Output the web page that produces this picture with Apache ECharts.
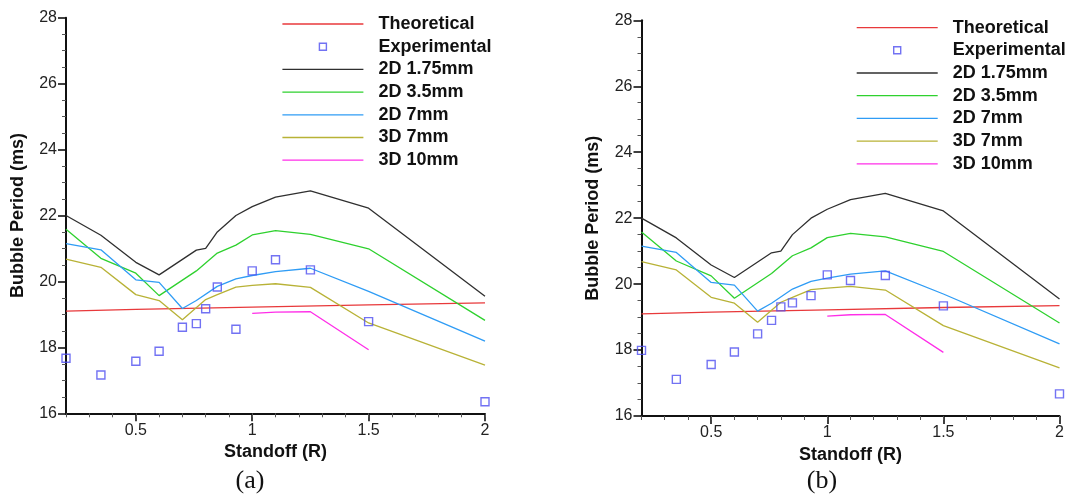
<!DOCTYPE html>
<html>
<head>
<meta charset="utf-8">
<script src="https://cdn.jsdelivr.net/npm/echarts@6/dist/echarts.min.js"></script>
<style>
html,body{margin:0;padding:0;background:#fff;}
#chart{width:1085px;height:498px;}
</style>
</head>
<body>
<div id="chart"></div>
<script>
// ---- data (x = standoff R, y = bubble period ms) ----
var legendNames = ['Theoretical', 'Experimental', '2D 1.75mm', '2D 3.5mm', '2D 7mm', '3D 7mm', '3D 10mm'];
var xMajorTicks = [0.5, 1, 1.5, 2];
var xMinorTicks = [0.2, 0.3, 0.4, 0.5, 0.6, 0.7, 0.8, 0.9, 1.0, 1.1, 1.2, 1.3, 1.4, 1.5, 1.6, 1.7, 1.8, 1.9, 2.0];
var theoretical = [[0.2, 19.1], [0.5, 19.15], [1.0, 19.22], [1.5, 19.29], [2.0, 19.35]];
var sim2d175 = [[0.2, 22.0], [0.35, 21.4], [0.5, 20.58], [0.6, 20.2], [0.76, 20.95], [0.8, 21.0], [0.85, 21.5], [0.93, 22.0], [1.0, 22.27], [1.1, 22.56], [1.25, 22.75], [1.5, 22.22], [2.0, 19.55]];
var sim2d35 = [[0.2, 21.58], [0.35, 20.7], [0.5, 20.25], [0.6, 19.57], [0.76, 20.32], [0.85, 20.86], [0.93, 21.1], [1.0, 21.41], [1.1, 21.54], [1.25, 21.43], [1.5, 20.99], [2.0, 18.82]];
var sim2d7 = [[0.2, 21.15], [0.35, 20.96], [0.5, 20.05], [0.6, 19.97], [0.7, 19.18], [0.76, 19.42], [0.85, 19.85], [0.93, 20.08], [1.0, 20.18], [1.1, 20.3], [1.25, 20.4], [1.5, 19.7], [2.0, 18.19]];
var sim3d7 = [[0.2, 20.68], [0.35, 20.43], [0.5, 19.6], [0.6, 19.42], [0.7, 18.84], [0.8, 19.45], [0.85, 19.6], [0.93, 19.83], [1.0, 19.88], [1.1, 19.93], [1.25, 19.82], [1.5, 18.74], [2.0, 17.46]];
var sim3d10 = [[1.0, 19.03], [1.1, 19.07], [1.25, 19.08], [1.5, 17.93]];
var expA = [[0.2, 17.67], [0.35, 17.16], [0.5, 17.58], [0.6, 17.88], [0.7, 18.61], [0.76, 18.72], [0.8, 19.17], [0.85, 19.83], [0.93, 18.55], [1.0, 20.32], [1.1, 20.66], [1.25, 20.35], [1.5, 18.78], [2.0, 16.35]];
var expB = [[0.2, 17.99], [0.35, 17.11], [0.5, 17.56], [0.6, 17.94], [0.7, 18.49], [0.76, 18.9], [0.8, 19.31], [0.85, 19.43], [0.93, 19.65], [1.0, 20.28], [1.1, 20.11], [1.25, 20.26], [1.5, 19.34], [2.0, 16.67]];
var panelCaptions = ['(a)', '(b)'];

// ---- styling ----
var FONT = "'Liberation Sans', Arial, sans-serif";
var colors = {
  'Theoretical': '#e8393b',
  'Experimental': '#4f4ff0',
  '2D 1.75mm': '#2f2f2f',
  '2D 3.5mm': '#2ed12e',
  '2D 7mm': '#2f9cf5',
  '3D 7mm': '#b8b236',
  '3D 10mm': '#ff2ee8'
};
var grids = [
  {left: 66, top: 17.7, width: 419, height: 395.6},
  {left: 641.5, top: 20.3, width: 418, height: 395.7}
];
var legendPos = [{left: 281.7, top: 15}, {left: 856, top: 18.6}];
var captionPos = [{x: 250, y: 481}, {x: 822, y: 481}];

var chart = echarts.init(document.getElementById('chart'), null, {renderer: 'canvas'});

var xAxes = [], yAxes = [], series = [], legends = [], graphics = [];
var simSets = [
  ['2D 1.75mm', sim2d175], ['2D 3.5mm', sim2d35], ['2D 7mm', sim2d7], ['3D 7mm', sim3d7], ['3D 10mm', sim3d10]
];
var expSets = [expA, expB];

for (var p = 0; p < 2; p++) {
  xAxes.push({
    gridIndex: p, type: 'value', min: 0.2, max: 2, position: 'bottom',
    name: 'Standoff (R)', nameLocation: 'middle', nameGap: 25.5,
    nameTextStyle: {fontFamily: FONT, fontSize: 18, fontWeight: 'bold', color: '#111'},
    axisLine: {show: true, onZero: false, lineStyle: {color: '#111', width: 2}},
    axisTick: {show: true, length: 8, customValues: xMajorTicks, lineStyle: {color: '#111', width: 1.6}},
    axisLabel: {show: true, customValues: xMajorTicks, margin: 9, fontFamily: FONT, fontSize: 16, color: '#222',
      formatter: function (v) { return String(Math.round(v * 10) / 10); }},
    splitLine: {show: false}
  });
  xAxes.push({
    gridIndex: p, type: 'value', min: 0.2, max: 2, position: 'bottom',
    axisLine: {show: false, onZero: false},
    axisTick: {show: true, length: 4, customValues: xMinorTicks, lineStyle: {color: '#555', width: 1}},
    axisLabel: {show: false},
    splitLine: {show: false}
  });
  yAxes.push({
    gridIndex: p, type: 'value', min: 16, max: 28, interval: 2,
    name: 'Bubble Period (ms)', nameLocation: 'middle', nameGap: 39,
    nameTextStyle: {fontFamily: FONT, fontSize: 18, fontWeight: 'bold', color: '#111'},
    axisLine: {show: true, onZero: false, lineStyle: {color: '#111', width: 2}},
    axisTick: {show: true, length: 8, lineStyle: {color: '#111', width: 1.6}},
    minorTick: {show: true, splitNumber: 4, length: 4, lineStyle: {color: '#555', width: 1}},
    axisLabel: {margin: 9, fontFamily: FONT, fontSize: 16, color: '#222'},
    splitLine: {show: false}
  });

  var xi = p * 2;
  series.push({
    name: 'Theoretical', type: 'line', xAxisIndex: xi, yAxisIndex: p, data: theoretical,
    symbol: 'none', lineStyle: {color: colors['Theoretical'], width: 1.3}, itemStyle: {color: colors['Theoretical']},
    silent: true, z: 2
  });
  for (var s = 0; s < simSets.length; s++) {
    var nm = simSets[s][0];
    series.push({
      name: nm, type: 'line', xAxisIndex: xi, yAxisIndex: p, data: simSets[s][1],
      symbol: 'none', lineStyle: {color: colors[nm], width: 1.3}, itemStyle: {color: colors[nm]},
      silent: true, z: 2
    });
  }
  series.push({
    name: 'Experimental', type: 'scatter', xAxisIndex: xi, yAxisIndex: p, data: expSets[p],
    symbol: 'rect', symbolSize: 8, clip: false,
    itemStyle: {color: 'rgba(255,255,255,0)', borderColor: colors['Experimental'], borderWidth: 1.4},
    silent: true, z: 3
  });

  legends.push({
    orient: 'vertical', left: legendPos[p].left, top: legendPos[p].top, padding: 0,
    itemWidth: 81, itemHeight: 14, itemGap: 4.7, selectedMode: false,
    textStyle: {fontFamily: FONT, fontSize: 18, fontWeight: 'bold', color: '#111', lineHeight: 18, padding: [0, 0, 0, 10]},
    data: legendNames.map(function (n) {
      if (n === 'Experimental') {
        return {name: n, icon: 'path://M0,0 M81,14 M37,3.5 L44,3.5 L44,10.5 L37,10.5 Z',
          itemStyle: {color: 'rgba(255,255,255,0)', borderColor: colors[n], borderWidth: 1.4}};
      }
      return {name: n, itemStyle: {color: 'rgba(0,0,0,0)', borderColor: 'rgba(0,0,0,0)', borderWidth: 0, opacity: 0},
        lineStyle: {color: colors[n], width: 1.3, opacity: 1}};
    })
  });

  graphics.push({
    type: 'text', x: captionPos[p].x, y: captionPos[p].y,
    style: {text: panelCaptions[p], font: "26px 'Liberation Serif', 'Times New Roman', serif",
      fill: '#111', align: 'center', verticalAlign: 'middle'}
  });
}

chart.setOption({
  animation: false,
  backgroundColor: '#fff',
  grid: grids,
  xAxis: xAxes,
  yAxis: yAxes,
  legend: legends,
  series: series,
  graphic: graphics
});
</script>
</body>
</html>
